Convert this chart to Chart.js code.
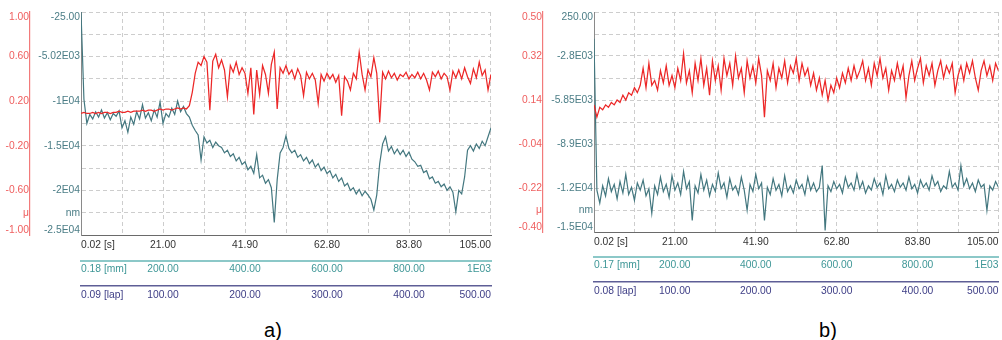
<!DOCTYPE html>
<html><head><meta charset="utf-8">
<script src="https://cdn.jsdelivr.net/npm/chart.js@4.4.1/dist/chart.umd.min.js"></script>
<style>
html,body{margin:0;padding:0;background:#fff;width:1002px;height:340px;overflow:hidden;}
#ca{position:absolute;left:0;top:0;}
#cb{position:absolute;left:513px;top:0;}
.lbl{position:absolute;font-family:'Liberation Sans',Arial,sans-serif;font-size:20px;line-height:20px;color:#000;text-align:center;width:40px;}
</style></head><body>
<canvas id="ca" width="500" height="306"></canvas>
<canvas id="cb" width="489" height="302"></canvas>
<div class="lbl" style="left:253px;top:320px">a)</div>
<div class="lbl" style="left:808px;top:320px">b)</div>
<script>
// ---- sampling of the recorded signals (time in s) ----
const sampleStart = 0.02;
const sampleInterval = 0.7498;

// ---- shared time axis ----
const timeRange = [0.02, 105];
const timeTickLabels = ['0.02 [s]', '', '21.00', '', '41.90', '', '62.80', '', '83.80', '', '105.00'];

// ---- panel a ----
const redRangeA = [-1, 1];
const redTickLabelsA = ['1.00', '', '0.60', '', '0.20', '', '-0.20', '', '-0.60', 'μ', '-1.00'];
const tealRangeA = [-25000, -25];
const tealTickLabelsA = ['-25.00', '', '-5.02E03', '', '-1E04', '', '-1.5E04', '', '-2E04', 'nm', '-2.5E04'];
const mmRangeA = [0.18, 1000];
const mmTickValuesA = [0.18, 200, 400, 600, 800, 1000];
const mmTickLabelsA = ['0.18 [mm]', '200.00', '400.00', '600.00', '800.00', '1E03'];
const lapRangeA = [0.09, 500];
const lapTickValuesA = [0.09, 100, 200, 300, 400, 500];
const lapTickLabelsA = ['0.09 [lap]', '100.00', '200.00', '300.00', '400.00', '500.00'];

// friction coefficient μ, in hundredths
const frictionA = [
 9,10,9,9,10,9,10,9,10,10,9,10,10,11,10,10,11,10,11,11,11,12,11,12,12,11,12,13,12,13,13,12,13,14,13,14,13,
 16,28,45,55,52,60,55,12,56,62,50,57,48,24,52,46,55,44,50,45,27,50,8,48,26,52,44,27,53,64,13,50,45,52,
 44,48,40,49,43,25,46,40,45,39,18,44,38,45,40,44,37,43,7,42,38,30,45,40,64,44,30,48,42,59,45,1,46,40,
 47,41,45,39,44,42,46,40,44,41,46,40,45,39,30,46,42,47,40,45,42,30,47,41,48,40,50,42,36,49,41,55,43,48,30,44
];
// wear depth, in hundreds of nm
const wearA = [
 -0.25,-98,-125,-115,-120,-112,-118,-110,-119,-113,-121,-114,-117,-111,-130,-122,-135,-118,-126,-112,
 -120,-104,-119,-113,-122,-110,-118,-101,-125,-114,-118,-108,-115,-100,-112,-106,-114,-118,-127,-133,
 -138,-166,-140,-147,-144,-152,-146,-150,-152,-158,-155,-162,-159,-167,-163,-171,-168,-177,-173,-181,
 -160,-186,-183,-192,-188,-197,-236,-188,-158,-152,-139,-153,-158,-155,-163,-160,-167,-163,-170,-166,
 -174,-170,-178,-174,-181,-178,-186,-182,-190,-186,-195,-192,-200,-197,-204,-199,-206,-201,-205,-210,
 -222,-205,-170,-148,-140,-156,-151,-159,-154,-160,-155,-162,-157,-165,-168,-173,-172,-180,-178,-187,
 -185,-192,-190,-196,-193,-200,-196,-202,-224,-200,-204,-185,-155,-150,-156,-148,-153,-145,-150,-140,-130
];

// ---- panel b ----
const redRangeB = [-0.4, 0.5];
const redTickLabelsB = ['0.50', '', '0.32', '', '0.14', '', '-0.04', '', '-0.22', 'μ', '-0.40'];
const tealRangeB = [-15000, 250];
const tealTickLabelsB = ['250.00', '', '-2.8E03', '', '-5.85E03', '', '-8.9E03', '', '-1.2E04', 'nm', '-1.5E04'];
const mmRangeB = [0.17, 1000];
const mmTickValuesB = [0.17, 200, 400, 600, 800, 1000];
const mmTickLabelsB = ['0.17 [mm]', '200.00', '400.00', '600.00', '800.00', '1E03'];
const lapRangeB = [0.08, 500];
const lapTickValuesB = [0.08, 100, 200, 300, 400, 500];
const lapTickLabelsB = ['0.08 [lap]', '100.00', '200.00', '300.00', '400.00', '500.00'];

const frictionB = [
 12,7,11,10,12,11,13,12,14,13,16,14,17,16,19,17,20,27,19,29,20,22,18,26,21,28,20,24,19,27,
 22,33,21,26,17,29,22,31,20,27,16,30,22,28,18,31,24,29,20,32,23,27,17,30,23,28,21,31,24,7,
 26,22,29,19,27,23,30,21,28,25,31,22,29,24,27,20,25,18,23,16,22,14,20,17,23,19,25,21,27,22,
 28,23,26,30,22,27,20,29,24,31,23,27,18,26,22,29,23,28,15,24,30,22,27,31,21,28,24,29,20,26,
 30,23,28,25,29,17,24,28,22,29,25,30,23,18,26,30,24,28,22,29,26
];
const wearB = [
 -16,-121,-130,-118,-125,-113,-122,-117,-127,-115,-123,-110,-124,-119,-128,-116,-121,-114,-125,-120,
 -137,-118,-124,-112,-122,-117,-126,-111,-121,-116,-124,-108,-120,-115,-142,-118,-123,-110,-121,-114,
 -125,-117,-122,-109,-120,-116,-126,-113,-121,-118,-124,-112,-121,-135,-117,-122,-110,-120,-116,-142,
 -119,-124,-113,-121,-117,-125,-111,-122,-118,-123,-114,-120,-117,-124,-112,-121,-116,-122,-119,-104,
 -149,-118,-122,-115,-120,-117,-123,-112,-119,-116,-121,-110,-120,-115,-123,-118,-121,-113,-119,-116,
 -124,-111,-120,-117,-122,-114,-119,-116,-121,-112,-120,-117,-123,-114,-119,-116,-121,-111,-118,-115,
 -122,-118,-120,-108,-119,-116,-121,-104,-118,-113,-120,-116,-122,-114,-119,-117,-135,-118,-121,-115,-119
];

// ---- styles ----
const FONT = "'Liberation Sans', Arial, sans-serif";
Chart.defaults.font.family = FONT;
Chart.defaults.font.size = 10.3;
const RED_LINE = '#ec2727', TEAL_LINE = '#43777f';
const RED_TXT = '#ef5e5e', TEAL_TXT = '#4b7d86';
const GRID = '#cdcdcd';

function evenTicks(range, labels, descending) {
  const n = labels.length - 1;
  return labels.map((l, k) => ({
    value: descending ? range[1] - k * (range[1] - range[0]) / n : range[0] + k * (range[1] - range[0]) / n
  }));
}

const edgeLabels = {
  id: 'edgeLabels',
  beforeDraw(chart) {
    ['yRed', 'yTeal'].forEach(id => {
      const s = chart.scales[id];
      if (!s || typeof s.getLabelItems !== 'function') return;
      const items = s.getLabelItems(chart.chartArea);
      let top = null, bot = null;
      items.forEach(it => {
        const y = it.options.translation[1];
        if (!top || y < top.options.translation[1]) top = it;
        if (!bot || y > bot.options.translation[1]) bot = it;
      });
      if (top) top.options.textBaseline = 'top';
      if (bot) {
        bot.options.textBaseline = 'alphabetic';
        bot.options.translation = [bot.options.translation[0], bot.options.translation[1] - 2];
      }
    });
  }
};

function panel(id, p) {
  const pts = (arr, f) => arr.map((v, i) => ({ x: sampleStart + i * sampleInterval, y: v * f }));
  new Chart(document.getElementById(id), {
    type: 'line',
    data: {
      datasets: [
        { label: 'μ', data: pts(p.red, 0.01), borderColor: RED_LINE, borderWidth: 1.25, pointRadius: 0, tension: 0, xAxisID: 'x', yAxisID: 'yRed' },
        { label: 'nm', data: pts(p.teal, 100), borderColor: TEAL_LINE, borderWidth: 1.2, pointRadius: 0, tension: 0, xAxisID: 'x', yAxisID: 'yTeal' }
      ]
    },
    options: {
      responsive: false, animation: false, events: [],
      layout: { padding: { left: 0, top: 12, right: p.padRight, bottom: 0 } },
      plugins: { legend: { display: false }, tooltip: { enabled: false } },
      scales: {
        x: {
          type: 'linear', position: 'bottom', weight: 0, min: timeRange[0], max: timeRange[1],
          afterBuildTicks: s => { s.ticks = evenTicks(timeRange, timeTickLabels, false); },
          afterFit: s => { s.height = p.hTime; },
          grid: { color: GRID, lineWidth: 1, drawTicks: false },
          border: { display: true, color: '#6a6a6a', width: 1, dash: [4, 3] },
          ticks: { autoSkip: false, maxRotation: 0, minRotation: 0, align: 'inner', padding: 3.5, color: '#333',
                   callback: (v, i) => timeTickLabels[i] }
        },
        xmm: {
          type: 'linear', position: 'bottom', weight: 1, min: p.mmRange[0], max: p.mmRange[1],
          afterBuildTicks: s => { s.ticks = p.mmVals.map(v => ({ value: v })); },
          afterFit: s => { s.height = 25; },
          grid: { display: false, drawTicks: false },
          border: { display: true, color: '#8cc8c8', width: 2 },
          ticks: { autoSkip: false, maxRotation: 0, minRotation: 0, align: 'inner', padding: 2, color: '#3f9797',
                   callback: (v, i) => p.mmLabels[i] }
        },
        xlap: {
          type: 'linear', position: 'bottom', weight: 2, min: p.lapRange[0], max: p.lapRange[1],
          afterBuildTicks: s => { s.ticks = p.lapVals.map(v => ({ value: v })); },
          afterFit: s => { s.height = 20; },
          grid: { display: false, drawTicks: false },
          border: { display: true, color: '#5e5e96', width: 1.5 },
          ticks: { autoSkip: false, maxRotation: 0, minRotation: 0, align: 'inner', padding: 2.5, color: '#3e3e86',
                   callback: (v, i) => p.lapLabels[i] }
        },
        yTeal: {
          type: 'linear', position: 'left', weight: 0, min: p.tealRange[0], max: p.tealRange[1],
          afterBuildTicks: s => { s.ticks = evenTicks(p.tealRange, p.tealLabels, true); },
          afterFit: s => { s.width = 51; },
          grid: { color: GRID, lineWidth: 1, drawTicks: false },
          border: { display: true, color: '#8a8a8a', width: 1, dash: [4, 3] },
          ticks: { autoSkip: false, padding: 1, color: TEAL_TXT, callback: (v, i) => p.tealLabels[i] }
        },
        yRed: {
          type: 'linear', position: 'left', weight: 1, min: p.redRange[0], max: p.redRange[1],
          afterBuildTicks: s => { s.ticks = evenTicks(p.redRange, p.redLabels, true); },
          afterFit: s => { s.width = 30; },
          grid: { display: false, drawTicks: false },
          border: { display: true, color: '#f27a7a', width: 1.2 },
          ticks: { autoSkip: false, padding: 1, color: RED_TXT, callback: (v, i) => p.redLabels[i] }
        }
      }
    },
    plugins: [edgeLabels]
  });
}

panel('ca', {
  red: frictionA, teal: wearA, padRight: 9, hTime: 26,
  redRange: redRangeA, redLabels: redTickLabelsA, tealRange: tealRangeA, tealLabels: tealTickLabelsA,
  mmRange: mmRangeA, mmVals: mmTickValuesA, mmLabels: mmTickLabelsA,
  lapRange: lapRangeA, lapVals: lapTickValuesA, lapLabels: lapTickLabelsA
});
panel('cb', {
  red: frictionB, teal: wearB, padRight: 3, hTime: 25,
  redRange: redRangeB, redLabels: redTickLabelsB, tealRange: tealRangeB, tealLabels: tealTickLabelsB,
  mmRange: mmRangeB, mmVals: mmTickValuesB, mmLabels: mmTickLabelsB,
  lapRange: lapRangeB, lapVals: lapTickValuesB, lapLabels: lapTickLabelsB
});
</script>
</body></html>
